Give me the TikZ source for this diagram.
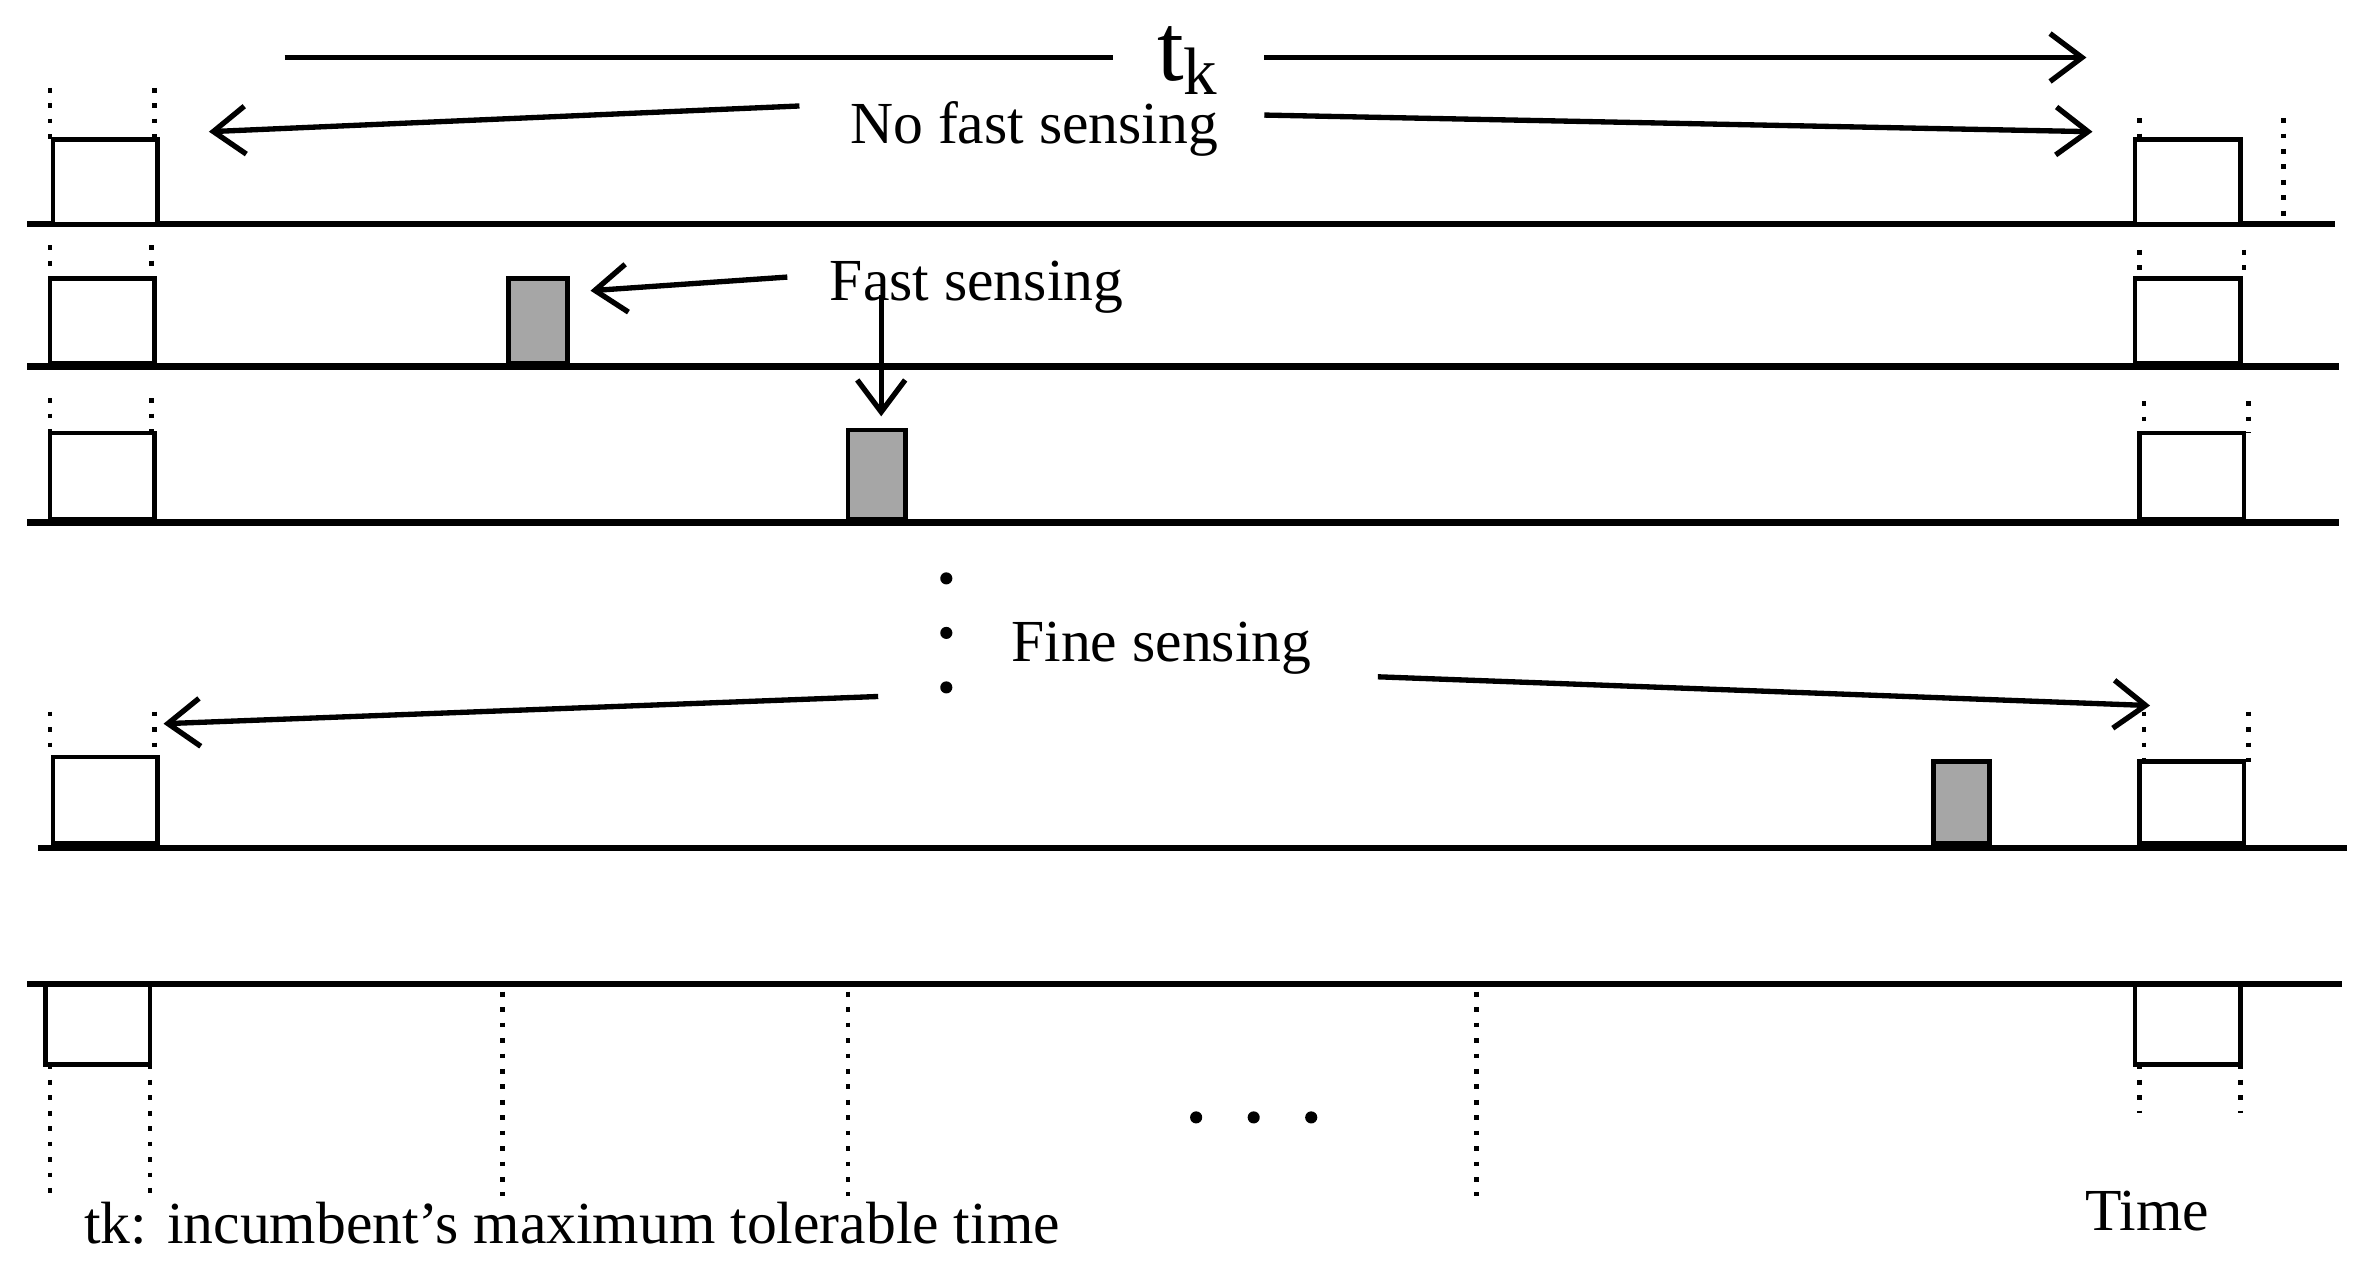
\documentclass[tikz,border=0pt]{standalone}
\usepackage{fontspec}
\setmainfont{Liberation Serif}
\usetikzlibrary{arrows.meta}
\begin{document}
\begin{tikzpicture}[x=0.01cm,y=-0.01cm,
  base/.style={line width=1.2pt},
  slot/.style={draw,line width=0.9pt,fill=white},
  gslot/.style={draw,line width=0.9pt,fill=gray!70},
  dot/.style={dotted,line width=0.9pt},
  arr/.style={line width=1pt,-{Straight Barb[length=6pt,width=9pt]}},
  lbl/.style={font=\fontsize{11.2}{13}\selectfont,inner sep=0pt}]
\useasboundingbox (0,0) rectangle (1560,840);
% row 1
\draw[base] (18,148) -- (1542,148);
\draw[slot] (35,92) rectangle (104,148);
\draw[slot] (1410,92) rectangle (1480,148);
\draw[dot] (33,58) -- (33,92) (102,58) -- (102,92) (1413,78) -- (1413,92) (1508,78) -- (1508,145);
\node[inner sep=0pt,font=\fontsize{18}{20}\selectfont] (tk) at (785,40) {t\textsubscript{k}};
\coordinate (tkl) at (188,38); \coordinate (tkr) at (1378,38);
\draw[line width=1pt] (tkl) -- (735,38);
\draw[arr] (835,38) -- (tkr);
\node[lbl] (nfs) at (683,85) {No fast sensing};
\coordinate (a1) at (528,70); \coordinate (a1e) at (138,87);
\coordinate (a2) at (835,76); \coordinate (a2e) at (1382,87);
\draw[arr] (a1) -- (a1e);
\draw[arr] (a2) -- (a2e);
% row 2
\draw[base] (18,242) -- (1545,242);
\draw[slot] (33,184) rectangle (102,240);
\draw[gslot] (336,184) rectangle (375,240);
\draw[slot] (1410,184) rectangle (1480,240);
\draw[dot] (33,162) -- (33,184) (100,162) -- (100,184) (1413,165) -- (1413,184) (1482,165) -- (1482,184);
\node[lbl] (fs) at (645,190) {Fast sensing};
\coordinate (b1) at (520,183); \coordinate (b1e) at (390,192);
\draw[arr] (b1) -- (b1e);
\coordinate (b2) at (582,195); \coordinate (b2e) at (582,275);
\draw[arr] (b2) -- (b2e);
% row 3
\draw[base] (18,345) -- (1545,345);
\draw[slot] (33,286) rectangle (102,343);
\draw[gslot] (560,284) rectangle (598,343);
\draw[slot] (1413,286) rectangle (1482,343);
\draw[dot] (33,263) -- (33,286) (100,263) -- (100,286) (1416,265) -- (1416,286) (1485,265) -- (1485,286);
\foreach \yy in {382,418,454} \fill (625,\yy) circle (4);
% fine sensing
\node[lbl] (fine) at (767,428) {Fine sensing};
\coordinate (c1) at (580,460); \coordinate (c1e) at (108,478);
\coordinate (c2) at (910,447); \coordinate (c2e) at (1420,466);
\draw[arr] (c1) -- (c1e);
\draw[arr] (c2) -- (c2e);
% row 4
\draw[base] (25,560) -- (1550,560);
\draw[slot] (35,500) rectangle (104,557);
\draw[gslot] (1277,503) rectangle (1314,557);
\draw[slot] (1413,503) rectangle (1482,557);
\draw[dot] (33,470) -- (33,500) (102,470) -- (102,500) (1416,470) -- (1416,503) (1485,470) -- (1485,503);
% row 5
\draw[base] (18,650) -- (1547,650);
\draw[slot] (30,650) rectangle (99,703);
\draw[slot] (1410,650) rectangle (1480,703);
\draw[dot] (33,703) -- (33,790) (99,703) -- (99,790) (332,655) -- (332,790) (560,655) -- (560,790) (975,655) -- (975,790) (1413,703) -- (1413,735) (1480,703) -- (1480,735);
\foreach \xx in {790,828,866} \fill (\xx,738) circle (4);
\node[lbl,anchor=west] (legend) at (55,808) {tk: incumbent’s maximum tolerable time};
\node[lbl] (time) at (1418,800) {Time};
\end{tikzpicture}
\end{document}
